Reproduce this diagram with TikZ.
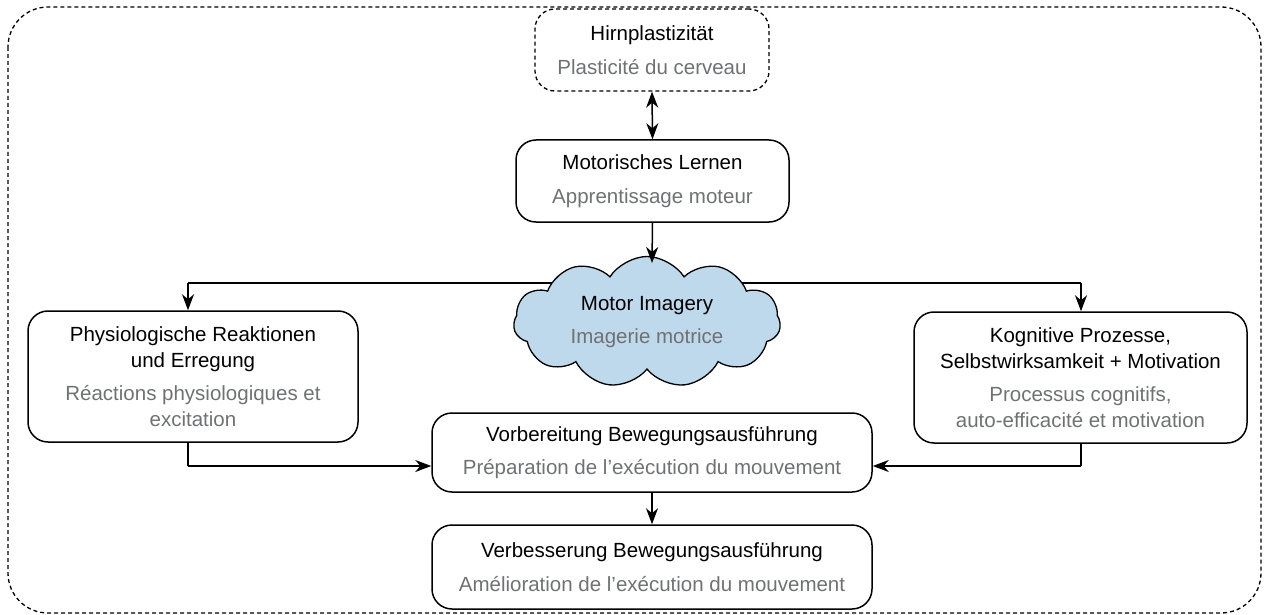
\documentclass[tikz,border=0pt]{standalone}
\usepackage{fontspec}
\setmainfont{Liberation Sans}
\usetikzlibrary{shapes.symbols,arrows.meta,calc}
\definecolor{frgray}{RGB}{112,113,115}
\definecolor{cloudblue}{RGB}{190,216,236}
\tikzset{
  box/.style={draw, line width=1.5pt, rounded corners=20pt, align=center,
    font=\fontsize{20.5}{25.5}\selectfont, inner sep=0pt},
  dashbox/.style={box, dash pattern=on 4pt off 3pt, line width=1.3pt},
  conn/.style={line width=1.5pt, -{Stealth[length=16pt,width=12pt,inset=5pt]}},
  biconn/.style={line width=1.5pt, {Stealth[length=16pt,width=12pt,inset=5pt]}-{Stealth[length=16pt,width=12pt,inset=5pt]}},
  frame/.style={line width=1.3pt, dash pattern=on 4pt off 3pt, rounded corners=40pt},
}
\begin{document}
\begin{tikzpicture}[x=1pt,y=-1pt]
\useasboundingbox (0,0) rectangle (1264,615);
\draw[frame] (8,7) rectangle (1261,613);

\node[dashbox, minimum width=234pt, minimum height=82pt] (hirn) at (652,50)
  {Hirnplastizität\\[9pt]\textcolor{frgray}{Plasticité du cerveau}};
\node[box, minimum width=273pt, minimum height=82pt] (learn) at (652.5,181)
  {Motorisches Lernen\\[8pt]\textcolor{frgray}{Apprentissage moteur}};
\node[box, minimum width=330pt, minimum height=131pt] (phys) at (193,376.5)
  {Physiologische Reaktionen\\und Erregung\\[8pt]\textcolor{frgray}{Réactions physiologiques et}\\\textcolor{frgray}{excitation}};
\node[box, minimum width=333pt, minimum height=131pt] (kog) at (1080.5,377.5)
  {Kognitive Prozesse,\\Selbstwirksamkeit + Motivation\\[8pt]\textcolor{frgray}{Processus cognitifs,}\\\textcolor{frgray}{auto-efficacité et motivation}};
\node[box, minimum width=440pt, minimum height=79pt] (vor) at (652,452.5)
  {Vorbereitung Bewegungsausführung\\[8pt]\textcolor{frgray}{Préparation de l’exécution du mouvement}};
\node[box, minimum width=440pt, minimum height=84pt] (verb) at (652,567)
  {Verbesserung Bewegungsausführung\\[8pt]\textcolor{frgray}{Amélioration de l’exécution du mouvement}};

\coordinate (jl) at (188,283);
\coordinate (jr) at (1081,283);
\coordinate (bl) at (188,466);
\coordinate (br) at (1081,466);
\coordinate (ctop) at (652,263);

\draw[line width=1.5pt] (jl) -- (jr);
\draw[conn] (jl) -- (jl |- phys.north);
\draw[conn] (jr) -- (jr |- kog.north);

\node[cloud, cloud puffs=11, cloud puff arc=115, cloud ignores aspect, draw, fill=cloudblue,
  line width=1.3pt, minimum width=267pt, minimum height=131pt, inner sep=0pt, align=center,
  font=\fontsize{20.5}{25.5}\selectfont] (cloud) at (647,322)
  {Motor Imagery\\[8pt]\textcolor{frgray}{Imagerie motrice}};

\draw[biconn] (hirn.south) -- (learn.north);
\draw[conn] (learn.south) -- (ctop);
\draw[line width=1.5pt] (jl |- phys.south) -- (bl);
\draw[conn] (bl) -- (bl -| vor.west);
\draw[line width=1.5pt] (jr |- kog.south) -- (br);
\draw[conn] (br) -- (br -| vor.east);
\draw[conn] (vor.south) -- (verb.north);
\end{tikzpicture}
\end{document}
